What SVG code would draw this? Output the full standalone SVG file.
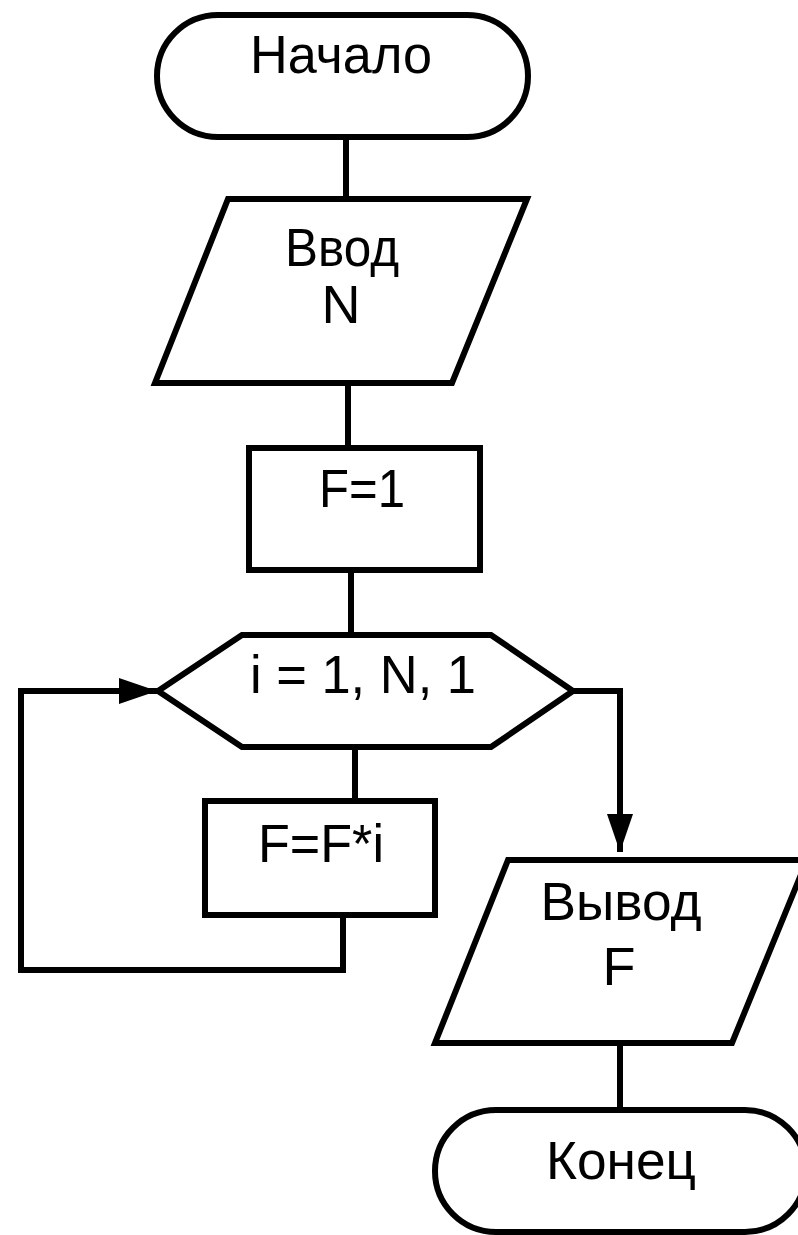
<svg xmlns="http://www.w3.org/2000/svg" width="798" height="1235" viewBox="0 0 798 1235">
<style>
.shape{fill:#fff;stroke:#000;stroke-width:6;stroke-linejoin:miter}
.lbl{font-family:"Liberation Sans",Arial,sans-serif;font-size:54px;fill:#000;text-anchor:middle}
.conn{fill:none;stroke:#000;stroke-width:6}
</style>
<defs>
<marker id="arr" markerUnits="userSpaceOnUse" markerWidth="38" markerHeight="26" refX="38" refY="13" orient="auto">
<path d="M0,0 L38,13 L0,26 z" fill="#000"/>
</marker>
</defs>
<rect width="798" height="1235" fill="#fff"/>
<g id="connectors">
<line class="conn" x1="346" y1="137" x2="346" y2="199"/>
<line class="conn" x1="348" y1="383" x2="348" y2="448"/>
<line class="conn" x1="351" y1="570" x2="351" y2="635"/>
<line class="conn" x1="355" y1="748" x2="355" y2="801"/>
<path class="conn" d="M343,915 V970 H21 V691 H157" marker-end="url(#arr)"/>
<path class="conn" d="M573,691 H620 V852" marker-end="url(#arr)"/>
<line class="conn" x1="620" y1="1043" x2="620" y2="1110"/>
</g>
<g id="start">
<rect class="shape" x="157" y="15" width="371" height="122" rx="61" ry="61"/>
<text class="lbl" x="341" y="73" textLength="182" lengthAdjust="spacingAndGlyphs">Начало</text>
</g>
<g id="input">
<polygon class="shape" points="228,199 527,199 452,383 155,383"/>
<text class="lbl" x="342" y="266" textLength="114" lengthAdjust="spacingAndGlyphs">Ввод</text>
<text class="lbl" x="341" y="323">N</text>
</g>
<g id="init">
<rect class="shape" x="249" y="448" width="231" height="122"/>
<text class="lbl" x="362" y="507" textLength="86" lengthAdjust="spacingAndGlyphs">F=1</text>
</g>
<g id="loop">
<polygon class="shape" points="158,691 242,635 491,635 573,691 491,747 242,747"/>
<text class="lbl" x="363" y="693" textLength="226" lengthAdjust="spacingAndGlyphs">i = 1, N, 1</text>
</g>
<g id="body">
<rect class="shape" x="205" y="801" width="230" height="114"/>
<text class="lbl" x="321" y="862" textLength="126" lengthAdjust="spacingAndGlyphs">F=F*i</text>
</g>
<g id="output">
<polygon class="shape" points="508,860 807,860 732,1043 435,1043"/>
<text class="lbl" x="621" y="920" textLength="161" lengthAdjust="spacingAndGlyphs">Вывод</text>
<text class="lbl" x="619" y="985">F</text>
</g>
<g id="end">
<rect class="shape" x="435" y="1110" width="371" height="122" rx="61" ry="61"/>
<text class="lbl" x="621" y="1179" textLength="150" lengthAdjust="spacingAndGlyphs">Конец</text>
</g>
</svg>
